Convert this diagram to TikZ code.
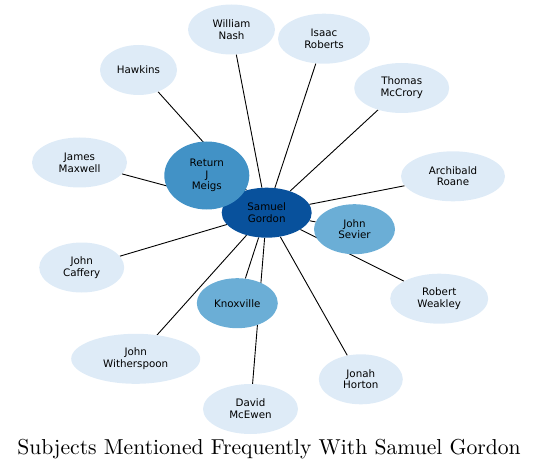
\documentclass[tikz,border=0pt]{standalone}
\usepackage{fontspec}
\usepackage{graphicx}
\newfontfamily\labelfont{DejaVu Sans}
\usetikzlibrary{shapes.geometric,backgrounds}
\definecolor{hub}{HTML}{08519C}
\definecolor{strong}{HTML}{4292C6}
\definecolor{mid}{HTML}{6BAED6}
\definecolor{weak}{HTML}{DEEBF7}
\tikzset{
  person/.style={ellipse, fill=weak, draw=none, inner sep=0pt, align=center,
    font=\labelfont\fontsize{10.3}{11.7}\selectfont, minimum height=50pt},
  link/.style={draw=black, line width=0.9pt}
}
\begin{document}
\begin{tikzpicture}[x=1pt,y=-1pt]
    \useasboundingbox (0,0) rectangle (537,470);

 \node (sg) at (266.7,212.7) [person, fill=hub, minimum width=90pt] {Samuel\\Gordon};
 \node (meigs) at (206.8,175.5) [person, fill=strong, minimum width=85pt, minimum height=68pt] {Return\\J\\Meigs};
 \node (sevier) at (354.5,229.2) [person, fill=mid, minimum width=81pt] {John\\Sevier};
 \node (knox) at (237.3,303.2) [person, fill=mid, minimum width=81pt] {Knoxville};

 \node (nash) at (231.5,29.5) [person, minimum width=87pt] {William\\Nash};
 \node (roberts) at (324,38.7) [person, minimum width=92pt] {Isaac\\Roberts};
 \node (hawkins) at (138.5,70) [person, minimum width=77pt] {Hawkins};
 \node (mccrory) at (401.7,88) [person, minimum width=95pt] {Thomas\\McCrory};
 \node (maxwell) at (79.5,162.5) [person, minimum width=95pt] {James\\Maxwell};
 \node (roane) at (453,176.3) [person, minimum width=104pt] {Archibald\\Roane};
 \node (caffery) at (81.7,267.5) [person, minimum width=85pt] {John\\Caffery};
 \node (weakley) at (439.2,298.7) [person, minimum width=98pt] {Robert\\Weakley};
 \node (wither) at (135.7,358.8) [person, minimum width=129pt] {John\\Witherspoon};
 \node (horton) at (360.8,379.3) [person, minimum width=84pt] {Jonah\\Horton};
 \node (mcewen) at (250.5,409) [person, minimum width=95pt] {David\\McEwen};

 \begin{pgfonlayer}{background}
   \foreach \other in {meigs,sevier,knox,nash,roberts,hawkins,mccrory,maxwell,
       roane,caffery,weakley,wither,horton,mcewen}
     \draw[link] (sg) -- (\other);
 \end{pgfonlayer}

 \node (title) at (269,454.3) [anchor=base, inner sep=0pt] {\resizebox{503.4pt}{!}{\fontsize{10}{12}\selectfont Subjects Mentioned Frequently With Samuel Gordon}};

\end{tikzpicture}
\end{document}
